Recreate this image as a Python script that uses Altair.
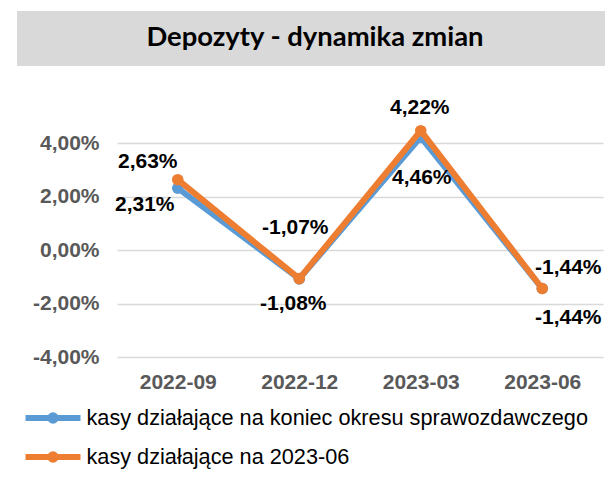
import altair as alt
import pandas as pd

title_text = "Depozyty - dynamika zmian"
periods = ["2022-09", "2022-12", "2023-03", "2023-06"]
series_names = [
    "kasy działające na koniec okresu sprawozdawczego",
    "kasy działające na 2023-06",
]
blue_values = [2.31, -1.08, 4.22, -1.44]
orange_values = [2.63, -1.07, 4.46, -1.44]
y_ticks = [-4, -2, 0, 2, 4]
series_colors = ["#5B9BD5", "#ED7D31"]

# label placement (dx, dy) for each point, per series
blue_label_offsets = [(-33, 17), (-6, 25), (-1, -29), (26, -21)]
orange_label_offsets = [(-30, -18), (-4, -51), (1, 47), (26, 29)]


def fmt(v):
    s = f"{abs(v):.2f}".replace(".", ",") + "%"
    return ("-" if v < 0 else "") + s


rows = []
for name, vals, offs in [
    (series_names[0], blue_values, blue_label_offsets),
    (series_names[1], orange_values, orange_label_offsets),
]:
    for p, v, o in zip(periods, vals, offs):
        rows.append({"period": p, "series": name, "value": v, "label": fmt(v),
                     "dx": o[0], "dy": o[1]})
df = pd.DataFrame(rows)

FONT = "Liberation Sans"

x_enc = alt.X(
    "period:N",
    sort=periods,
    scale=alt.Scale(type="point", padding=0.5),
    axis=alt.Axis(
        title=None, labelAngle=0, domain=False, ticks=False, grid=False,
        labelFont=FONT, labelFontSize=21, labelFontWeight="bold",
        labelColor="#595959", labelPadding=14,
    ),
)
y_enc = alt.Y(
    "value:Q",
    scale=alt.Scale(domain=[-4, 4], nice=False, zero=False),
    axis=alt.Axis(
        title=None, values=y_ticks, domain=False, ticks=False,
        gridColor="#D9D9D9", gridWidth=1.5,
        labelFont=FONT, labelFontSize=21, labelFontWeight="bold",
        labelColor="#595959", labelPadding=18,
        labelExpr="(datum.value < 0 ? '-' : '') + replace(format(abs(datum.value), '.2f'), '.', ',') + '%'",
    ),
)

legend_path = "M-2.75,0L2.75,0M0.27,0A0.27,0.27,0,1,1,-0.27,0A0.27,0.27,0,1,1,0.27,0Z"
color_enc = alt.Color(
    "series:N",
    scale=alt.Scale(domain=series_names, range=series_colors),
    legend=alt.Legend(
        title=None, orient="none", legendX=-77, legendY=262, direction="vertical",
        symbolType=legend_path, symbolSize=400, symbolStrokeWidth=6,
        labelFont=FONT, labelFontSize=21.7, labelColor="#000000", labelLimit=0,
        labelOffset=20.5, rowPadding=9, padding=0,
    ),
)

layers = []
# title box
title_df = pd.DataFrame({"t": [title_text]})
layers.append(
    alt.Chart(title_df).mark_rect(color="#D9D9D9").encode(
        x=alt.value(-100), x2=alt.value(488), y=alt.value(-132), y2=alt.value(-77)
    )
)
layers.append(
    alt.Chart(title_df).mark_text(
        font="Lato", fontSize=27.4, fontWeight="bold", color="#000000",
        align="center", baseline="middle",
    ).encode(text="t:N", x=alt.value(198), y=alt.value(-105))
)

for name in series_names:
    sub = alt.Chart(df).transform_filter(alt.datum.series == name)
    layers.append(sub.mark_line(strokeWidth=6, strokeCap="round", strokeJoin="round")
                  .encode(x=x_enc, y=y_enc, color=color_enc))
    layers.append(sub.mark_point(filled=True, size=133, opacity=1)
                  .encode(x=x_enc, y=y_enc, color=color_enc))

for name, offs in [(series_names[0], blue_label_offsets), (series_names[1], orange_label_offsets)]:
    for p, o in zip(periods, offs):
        layers.append(
            alt.Chart(df).transform_filter(
                (alt.datum.series == name) & (alt.datum.period == p)
            ).mark_text(
                font=FONT, fontSize=21, fontWeight="bold", color="#000000",
                dx=o[0], dy=o[1], align="center", baseline="middle",
            ).encode(x=x_enc, y=y_enc, text="label:N")
        )

chart = alt.layer(*layers).properties(
    width=486, height=214,
    padding={"left": 109, "top": 135, "right": 2, "bottom": 114},
    autosize=alt.AutoSizeParams(type="none"),
).configure_view(stroke=None)

chart.save("out.html", embed_options={"renderer": "svg", "actions": False})
